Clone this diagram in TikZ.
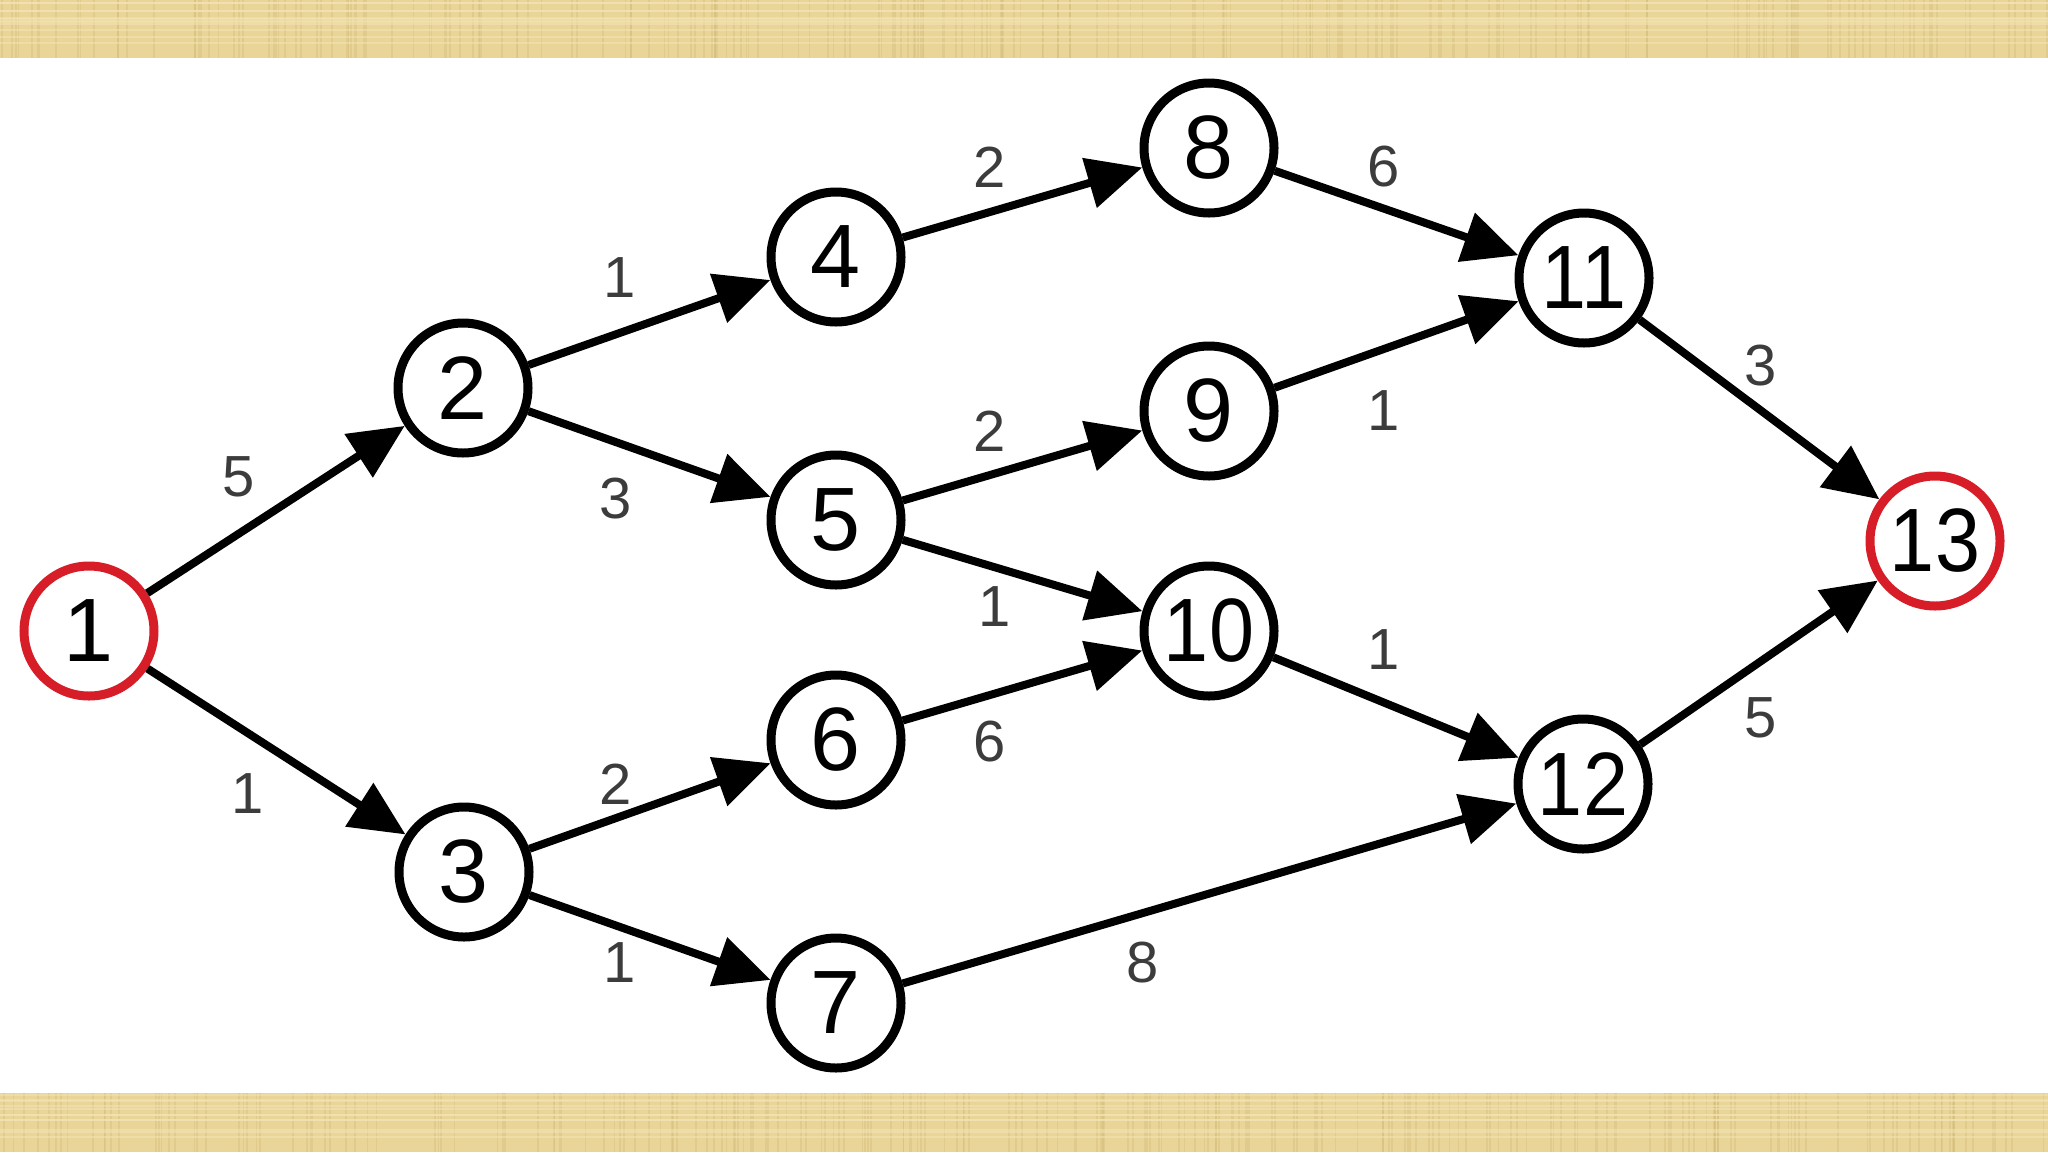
\documentclass[tikz,border=0pt]{standalone}
\usepackage{fontspec}
\usepackage{graphicx}
\setmainfont{Liberation Sans}
\usetikzlibrary{arrows.meta}
\definecolor{tan}{RGB}{233,213,152}
\definecolor{tandark}{RGB}{205,180,115}
\definecolor{tanlight}{RGB}{245,230,185}
\definecolor{nodered}{RGB}{215,30,40}
\definecolor{lblgray}{RGB}{60,60,60}
\newcommand{\twodig}[1]{\scalebox{0.9}[1]{#1}}
\tikzset{
  vtx/.style={circle, draw=black, line width=9pt, minimum size=130pt, inner sep=0pt,
    font=\fontsize{90}{90}\selectfont, fill=white},
  redvtx/.style={vtx, draw=nodered},
  arc/.style={line width=8pt, -{Triangle[length=55pt,width=50pt]}},
  wlabel/.style={font=\fontsize{58}{58}\selectfont, text=lblgray, inner sep=0pt},
}
\begin{document}
\begin{tikzpicture}[x=1pt,y=-1pt]
\useasboundingbox (0,0) rectangle (2048,1152);
\fill[white] (0,0) rectangle (2048,1152);
% textured bands
\fill[tan] (0,0) rectangle (2048,58);
\fill[tan] (0,1093) rectangle (2048,1152);
\pgfmathsetseed{7}
\foreach \i in {1,...,220}{
  \pgfmathsetmacro{\xx}{random(0,2048)}
  \pgfmathsetmacro{\ww}{0.5+2*rnd}
  \draw[tandark, opacity=0.3, line width=\ww pt] (\xx,0) -- (\xx,58);
  \pgfmathsetmacro{\xb}{random(0,2048)}
  \draw[tandark, opacity=0.3, line width=\ww pt] (\xb,1093) -- (\xb,1152);
}
\foreach \i in {1,...,12}{
  \pgfmathsetmacro{\yy}{random(2,56)}
  \draw[tanlight, opacity=0.5, line width=1.5pt] (0,\yy) -- (2048,\yy);
  \pgfmathsetmacro{\yb}{random(1095,1150)}
  \draw[tanlight, opacity=0.5, line width=1.5pt] (0,\yb) -- (2048,\yb);
}
% nodes
\node[redvtx] (n1)  at (89,631)   {1};
\node[vtx]    (n2)  at (463,388)  {2};
\node[vtx]    (n3)  at (464,872)  {3};
\node[vtx]    (n4)  at (836,257)  {4};
\node[vtx]    (n5)  at (836,520)  {5};
\node[vtx]    (n6)  at (836,740)  {6};
\node[vtx]    (n7)  at (836,1003) {7};
\node[vtx]    (n8)  at (1209,148) {8};
\node[vtx]    (n9)  at (1209,411) {9};
\node[vtx]    (n10) at (1209,631) {\twodig{10}};
\node[vtx]    (n11) at (1584,278) {\twodig{11}};
\node[vtx]    (n12) at (1583,784) {\twodig{12}};
\node[redvtx] (n13) at (1935,541) {\twodig{13}};
% arcs
\draw[arc] (n1) -- (n2);
\draw[arc] (n1) -- (n3);
\draw[arc] (n2) -- (n4);
\draw[arc] (n2) -- (n5);
\draw[arc] (n3) -- (n6);
\draw[arc] (n3) -- (n7);
\draw[arc] (n4) -- (n8);
\draw[arc] (n5) -- (n9);
\draw[arc] (n5) -- (n10);
\draw[arc] (n6) -- (n10);
\draw[arc] (n7) -- (n12);
\draw[arc] (n8) -- (n11);
\draw[arc] (n9) -- (n11);
\draw[arc] (n10) -- (n12);
\draw[arc] (n11) -- (n13);
\draw[arc] (n12) -- (n13);
% weights
\node[wlabel] (w12)   at (239,477)  {5};
\node[wlabel] (w13)   at (248,794)  {1};
\node[wlabel] (w24)   at (620,278)  {1};
\node[wlabel] (w25)   at (616,499)  {3};
\node[wlabel] (w36)   at (616,784)  {2};
\node[wlabel] (w37)   at (620,963)  {1};
\node[wlabel] (w48)   at (990,167)  {2};
\node[wlabel] (w59)   at (990,431)  {2};
\node[wlabel] (w510)  at (995,607)  {1};
\node[wlabel] (w610)  at (990,742)  {6};
\node[wlabel] (w712)  at (1143,963) {8};
\node[wlabel] (w811)  at (1384,167) {6};
\node[wlabel] (w911)  at (1384,411) {1};
\node[wlabel] (w1012) at (1384,650) {1};
\node[wlabel] (w1113) at (1761,366) {3};
\node[wlabel] (w1213) at (1761,718) {5};
\end{tikzpicture}
\end{document}
